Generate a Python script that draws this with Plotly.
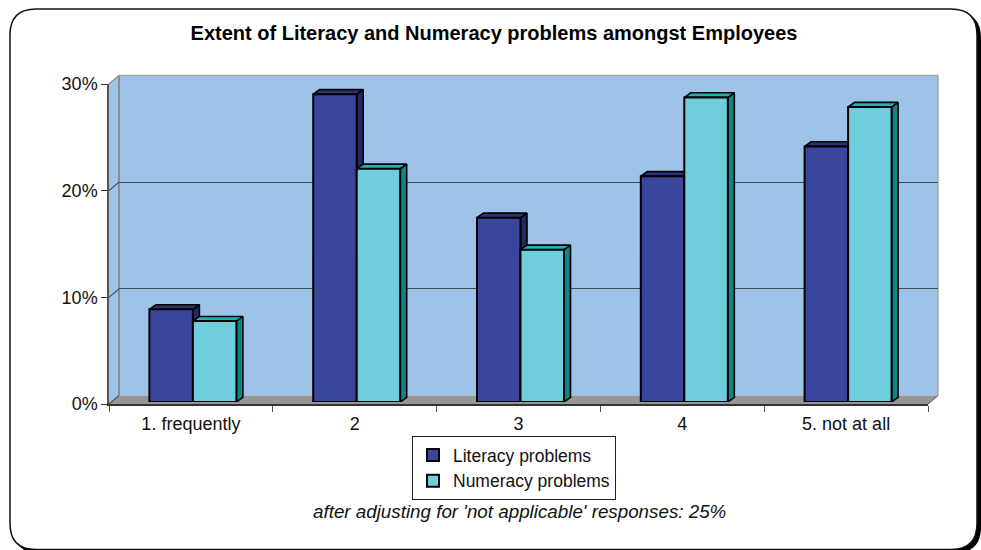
import plotly.graph_objects as go

categories = ["1. frequently", "2", "3", "4", "5. not at all"]
literacy = [8.7, 28.9, 17.3, 21.2, 24.0]
numeracy = [7.6, 21.9, 14.3, 28.6, 27.7]
y_ticks = [0, 10, 20, 30]
series_names = ["Literacy problems", "Numeracy problems"]
title_text = "Extent of Literacy and Numeracy problems amongst Employees"
note_text = "after adjusting for 'not applicable' responses: 25%"

W, H = 981, 550
FONT = "Liberation Sans, Arial, sans-serif"
INK = "#111111"

def fx(p): return p / W
def fy(p): return 1 - p / H
def dom_x(a, b): return [fx(a), fx(b)]
def dom_y(top, bottom): return [fy(bottom), fy(top)]

# pixel geometry of the three planes
FRONT = dict(l=109, r=928, t=84, b=404)
BACK = dict(l=119, r=938, t=75.5, b=395.5)
BARS = dict(l=111, r=930, t=82.5, b=402)
BAR_W = 43.5 / 163.8
DX = 6.5 / 163.8
DY = 4.6 / 106.6 * 10

fig = go.Figure()

hidden = dict(showgrid=False, zeroline=False, showticklabels=False, ticks="", showline=False)
layout_axes = dict(
    xaxis=dict(domain=dom_x(BACK["l"], BACK["r"]), range=[-0.5, 4.5], **hidden, anchor="y"),
    yaxis=dict(domain=dom_y(BACK["t"], BACK["b"]), range=[0, 30], anchor="x", showgrid=True,
               gridcolor="#3d4a58", gridwidth=1.2, zeroline=False, showticklabels=False,
               tickvals=[10, 20], showline=False, ticks=""),
    xaxis2=dict(domain=dom_x(FRONT["l"], FRONT["r"]), type="category", categoryorder="array",
                categoryarray=categories, range=[-0.5, 4.5], anchor="y2", showline=True,
                linecolor="#333333", linewidth=1.5, ticks="outside", ticklen=6, tickwidth=1,
                tickcolor="#555555", tickson="boundaries", showgrid=False, zeroline=False,
                ticklabelstandoff=3, tickfont=dict(family=FONT, size=18, color=INK)),
    yaxis2=dict(domain=dom_y(FRONT["t"], FRONT["b"]), range=[0, 30], anchor="x2", showline=True,
                linecolor="#555555", linewidth=1.5, ticks="outside", ticklen=6, tickwidth=1,
                tickcolor="#333333", tickvals=y_ticks, ticktext=[f"{v}%" for v in y_ticks],
                showgrid=False, zeroline=False, tickfont=dict(family=FONT, size=18, color=INK)),
    xaxis3=dict(domain=dom_x(BARS["l"], BARS["r"]), range=[-0.5, 4.5], anchor="y3", **hidden),
    yaxis3=dict(domain=dom_y(BARS["t"], BARS["b"]), range=[0, 30], anchor="x3", **hidden),
    xaxis4=dict(domain=dom_x(BARS["l"], BARS["r"]), range=[-0.5, 4.5], anchor="y4", **hidden),
    yaxis4=dict(domain=dom_y(BARS["t"], BARS["b"]), range=[0, 30], anchor="x4", **hidden),
)

fig.add_trace(go.Scatter(x=[0], y=[0], xaxis="x", yaxis="y", mode="markers", opacity=0,
                         showlegend=False, hoverinfo="skip"))
fig.add_trace(go.Scatter(x=categories, y=[0] * 5, xaxis="x2", yaxis="y2", mode="markers", opacity=0,
                         showlegend=False, hoverinfo="skip"))

palette = [
    dict(front="#3A459C", top="#2C3477", side="#232A60"),
    dict(front="#70CDDC", top="#1FB3B5", side="#0F8585"),
]
for i, (values, colours) in enumerate(zip([literacy, numeracy], palette)):
    top_x, top_y, side_x, side_y = [], [], [], []
    for c, v in enumerate(values):
        left = c + (i - 1) * BAR_W
        right = left + BAR_W
        top_x += [left, left + DX, right + DX, right, left, None]
        top_y += [v, v + DY, v + DY, v, v, None]
        side_x += [right, right + DX, right + DX, right, right, None]
        side_y += [0, DY, v + DY, v, 0, None]
    fig.add_trace(go.Scatter(x=side_x, y=side_y, xaxis="x3", yaxis="y3", mode="lines", fill="toself",
                             fillcolor=colours["side"], line=dict(color="#000000", width=1.6),
                             showlegend=False, hoverinfo="skip"))
    fig.add_trace(go.Scatter(x=top_x, y=top_y, xaxis="x3", yaxis="y3", mode="lines", fill="toself",
                             fillcolor=colours["top"], line=dict(color="#000000", width=1.6),
                             showlegend=False, hoverinfo="skip"))

for name, values, colours in zip(series_names, [literacy, numeracy], palette):
    fig.add_trace(go.Bar(x=list(range(len(categories))), y=values, name=name, xaxis="x4", yaxis="y4",
                         marker=dict(color=colours["front"], line=dict(color="#000000", width=2))))


def rounded(x0, y0, x1, y1, r):
    X = lambda p: f"{p / W:.5f}"
    Y = lambda p: f"{1 - p / H:.5f}"
    return (f"M {X(x0 + r)} {Y(y0)} L {X(x1 - r)} {Y(y0)} Q {X(x1)} {Y(y0)} {X(x1)} {Y(y0 + r)} "
            f"L {X(x1)} {Y(y1 - r)} Q {X(x1)} {Y(y1)} {X(x1 - r)} {Y(y1)} "
            f"L {X(x0 + r)} {Y(y1)} Q {X(x0)} {Y(y1)} {X(x0)} {Y(y1 - r)} "
            f"L {X(x0)} {Y(y0 + r)} Q {X(x0)} {Y(y0)} {X(x0 + r)} {Y(y0)} Z")


def poly(points, fill, line=None, width=0):
    d = "M " + " L ".join(f"{x / W:.5f} {1 - y / H:.5f}" for x, y in points) + " Z"
    return dict(type="path", path=d, xref="paper", yref="paper", layer="below", fillcolor=fill,
                line=dict(color=line or fill, width=width))


def seg(x0, y0, x1, y1, color, width):
    return dict(type="line", xref="paper", yref="paper", layer="below", x0=fx(x0), x1=fx(x1),
                y0=fy(y0), y1=fy(y1), line=dict(color=color, width=width))


WALL = "#9DC3E8"
FLOOR = "#969696"
shapes = [
    dict(type="path", path=rounded(13, 12, 981, 553, 26), xref="paper", yref="paper", layer="below",
         fillcolor="#000000", line=dict(color="#000000", width=0)),
    dict(type="path", path=rounded(10, 9, 977, 549.5, 26), xref="paper", yref="paper", layer="below",
         fillcolor="#FFFFFF", line=dict(color="#111111", width=1.5)),
    poly([(BACK["l"], BACK["t"]), (BACK["r"], BACK["t"]), (BACK["r"], BACK["b"]), (BACK["l"], BACK["b"])], WALL),
    poly([(FRONT["l"], FRONT["t"]), (BACK["l"], BACK["t"]), (BACK["l"], BACK["b"]), (FRONT["l"], FRONT["b"])], WALL),
    poly([(FRONT["l"], FRONT["b"]), (BACK["l"], BACK["b"]), (BACK["r"], BACK["b"]), (FRONT["r"], FRONT["b"])], FLOOR),
    seg(BACK["l"], BACK["t"], BACK["r"], BACK["t"], "#A6A6A6", 1.5),
    seg(BACK["r"], BACK["t"], BACK["r"], BACK["b"], "#A6A6A6", 1.5),
    seg(BACK["l"], BACK["t"], BACK["l"], BACK["b"], "#8C8C8C", 2),
    seg(FRONT["l"], FRONT["t"], BACK["l"], BACK["t"], "#8C8C8C", 1.2),
    seg(FRONT["r"], FRONT["b"], BACK["r"], BACK["b"], "#777777", 1.2),
]
span_f = FRONT["b"] - FRONT["t"]
span_b = BACK["b"] - BACK["t"]
for v in y_ticks[1:-1]:
    shapes.append(seg(FRONT["l"], FRONT["b"] - span_f * v / 30, BACK["l"], BACK["b"] - span_b * v / 30, "#3d4a58", 1.2))
shapes.append(seg(FRONT["l"], FRONT["b"], BACK["l"], BACK["b"], "#555555", 1.2))

fig.update_layout(
    width=W, height=H, autosize=False,
    margin=dict(l=0, r=0, t=0, b=0, pad=0, autoexpand=False),
    paper_bgcolor="#FFFFFF", plot_bgcolor="rgba(0,0,0,0)",
    barmode="group", bargap=1 - 2 * BAR_W, bargroupgap=0,
    font=dict(family=FONT, size=17.5, color=INK),
    title=dict(text=f"<b>{title_text}</b>", x=494 / W, xanchor="center", y=fy(33), yanchor="middle",
               font=dict(family=FONT, size=20, color="#000000")),
    legend=dict(x=fx(412), y=fy(436), xanchor="left", yanchor="top", bgcolor="#FFFFFF",
                bordercolor="#222222", borderwidth=1,
                font=dict(family=FONT, size=17.5, color=INK), traceorder="normal"),
    annotations=[dict(text=f"<i>{note_text}</i>", xref="paper", yref="paper", x=519 / W, y=fy(511),
                      xanchor="center", yanchor="middle", showarrow=False,
                      font=dict(family=FONT, size=18.8, color=INK))],
    shapes=shapes,
    **layout_axes,
)

fig.write_html("out.html", config={"displayModeBar": False, "responsive": False},
               default_width="981px", default_height="550px",
               post_script="document.body.style.margin='0';")
